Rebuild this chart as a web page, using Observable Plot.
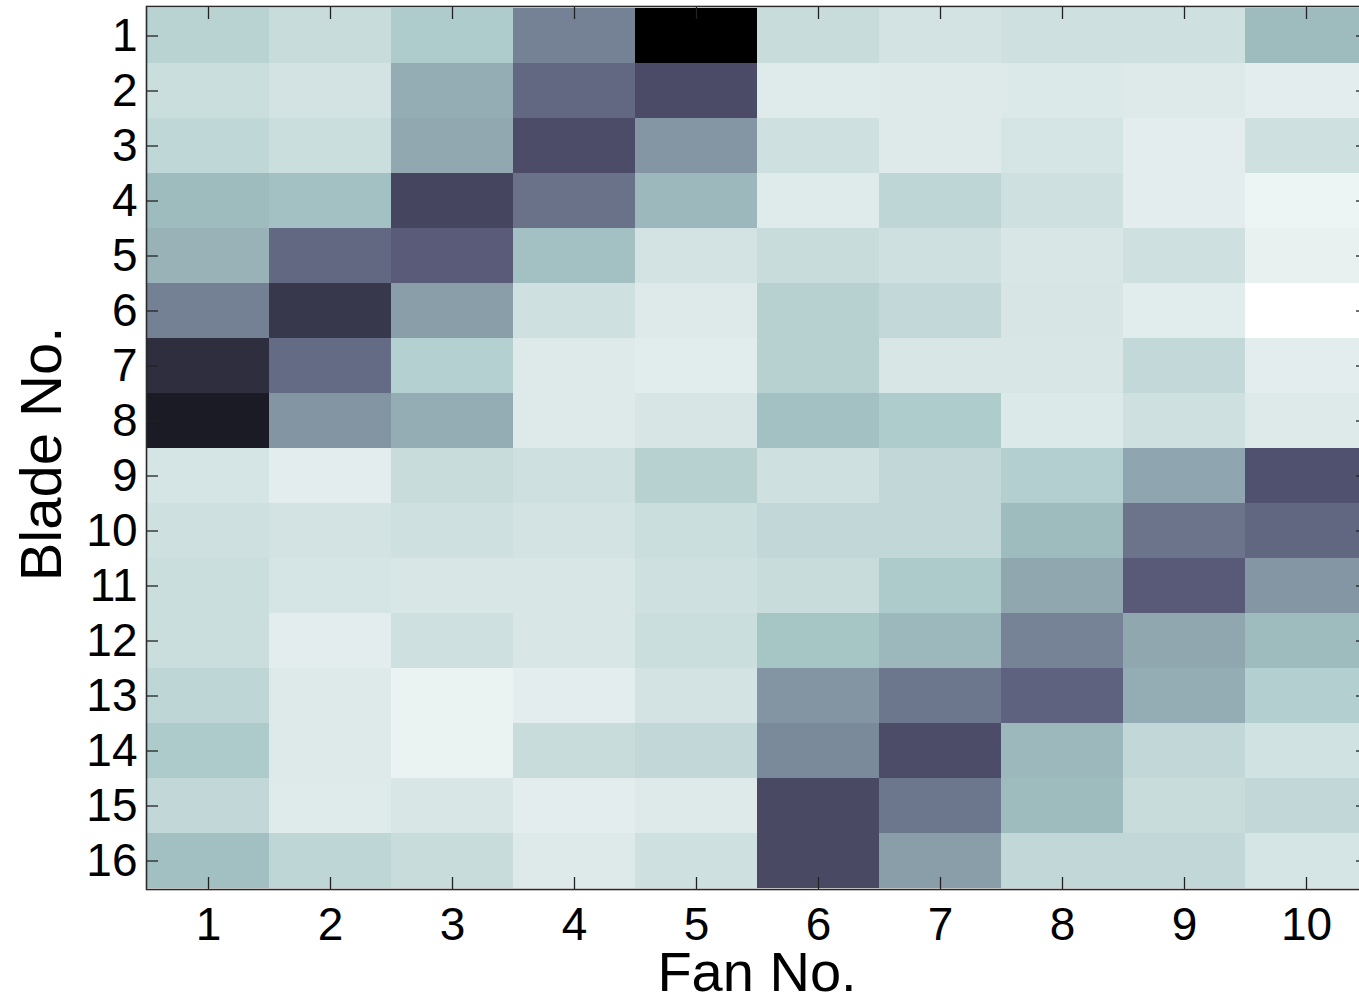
<!DOCTYPE html>
<html>
<head>
<meta charset="utf-8">
<script src="https://cdn.jsdelivr.net/npm/d3@7"></script>
<script src="https://cdn.jsdelivr.net/npm/@observablehq/plot@0.6"></script>
<style>
  html, body { margin: 0; padding: 0; background: #fff; overflow: hidden; }
  #chart svg { max-width: none !important; display: block; }
</style>
</head>
<body>
<div id="chart"></div>
<script>
// Fan numbers (columns) and blade numbers (rows)
const fans = [1, 2, 3, 4, 5, 6, 7, 8, 9, 10];
const blades = [1, 2, 3, 4, 5, 6, 7, 8, 9, 10, 11, 12, 13, 14, 15, 16];

// Cell intensity per blade row (0 = black, 1 = white on the bone colormap)
const blade01 = [0.80, 0.845, 0.77, 0.525, 0.00, 0.845, 0.875, 0.86, 0.86, 0.71];
const blade02 = [0.85, 0.875, 0.665, 0.44, 0.335, 0.91, 0.905, 0.90, 0.905, 0.92];
const blade03 = [0.82, 0.85, 0.65, 0.34, 0.59, 0.86, 0.905, 0.88, 0.92, 0.86];
const blade04 = [0.71, 0.73, 0.31, 0.475, 0.70, 0.91, 0.815, 0.86, 0.92, 0.95];
const blade05 = [0.68, 0.44, 0.40, 0.73, 0.875, 0.845, 0.86, 0.89, 0.86, 0.935];
const blade06 = [0.52, 0.25, 0.615, 0.86, 0.905, 0.795, 0.83, 0.885, 0.915, 1.00];
const blade07 = [0.205, 0.45, 0.79, 0.905, 0.915, 0.795, 0.89, 0.89, 0.83, 0.92];
const blade08 = [0.12, 0.585, 0.665, 0.905, 0.885, 0.73, 0.77, 0.90, 0.86, 0.905];
const blade09 = [0.88, 0.92, 0.845, 0.86, 0.795, 0.86, 0.825, 0.785, 0.64, 0.36];
const blade10 = [0.86, 0.875, 0.86, 0.875, 0.85, 0.825, 0.825, 0.71, 0.48, 0.435];
const blade11 = [0.85, 0.88, 0.89, 0.89, 0.86, 0.845, 0.765, 0.645, 0.395, 0.59];
const blade12 = [0.85, 0.92, 0.86, 0.89, 0.85, 0.745, 0.70, 0.53, 0.645, 0.71];
const blade13 = [0.815, 0.905, 0.94, 0.92, 0.875, 0.585, 0.485, 0.42, 0.665, 0.785];
const blade14 = [0.765, 0.905, 0.94, 0.845, 0.825, 0.55, 0.34, 0.70, 0.825, 0.87];
const blade15 = [0.825, 0.91, 0.89, 0.92, 0.905, 0.325, 0.485, 0.71, 0.845, 0.825];
const blade16 = [0.725, 0.815, 0.845, 0.905, 0.86, 0.325, 0.615, 0.825, 0.825, 0.88];

const rows = [blade01, blade02, blade03, blade04, blade05, blade06, blade07, blade08,
              blade09, blade10, blade11, blade12, blade13, blade14, blade15, blade16];

const table = blades.flatMap((b, i) => fans.map((f, j) => ({blade: b, fan: f, value: rows[i][j]})));

// MATLAB "bone" colormap
function bone(t) {
  const hr = Math.min(1, t / 0.375);
  const hg = Math.max(0, Math.min(1, (t - 0.375) / 0.375));
  const hb = Math.max(0, Math.min(1, (t - 0.75) / 0.25));
  const r = (7 * t + hb) / 8, g = (7 * t + hg) / 8, b = (7 * t + hr) / 8;
  return `rgb(${Math.round(r * 255)},${Math.round(g * 255)},${Math.round(b * 255)})`;
}

const font = "'Liberation Sans', Arial, Helvetica, sans-serif";
const blank = () => "";

const chart = Plot.plot({
  width: 1368,
  height: 1002,
  marginLeft: 146,
  marginRight: 1,
  marginTop: 6,
  marginBottom: 113,
  style: {fontFamily: font, color: "#000", background: "#fff", maxWidth: "none"},
  x: {type: "band", domain: fans, padding: 0, label: null},
  y: {type: "band", domain: blades, padding: 0, label: null},
  color: {type: "linear", domain: [0, 1], interpolate: bone},
  marks: [
    Plot.cell(table, {x: "fan", y: "blade", fill: "value", inset: 0}),
    Plot.axisX({anchor: "bottom", tickSize: -12, tickPadding: 30, fontSize: 46, stroke: "#222", strokeWidth: 1.3, label: null}),
    Plot.axisX({anchor: "top", tickSize: -12, tickFormat: blank, stroke: "#222", strokeWidth: 1.3, label: null}),
    Plot.axisY({anchor: "left", tickSize: -12, tickPadding: 21, fontSize: 46, stroke: "#222", strokeWidth: 1.3, label: null}),
    Plot.axisY({anchor: "right", tickSize: -12, tickFormat: blank, stroke: "#222", strokeWidth: 1.3, label: null}),
    Plot.frame({stroke: "#2a2a2a", strokeWidth: 1.6}),
    Plot.text(["Fan No."], {frameAnchor: "bottom", dy: 101, lineAnchor: "bottom", textAnchor: "middle", fontSize: 56, fill: "#000"}),
    Plot.text(["Blade No."], {frameAnchor: "left", dx: -86, dy: 6, rotate: -90, lineAnchor: "bottom", textAnchor: "middle", fontSize: 58, fill: "#000"})
  ]
});

document.getElementById("chart").appendChild(chart);
</script>
</body>
</html>
